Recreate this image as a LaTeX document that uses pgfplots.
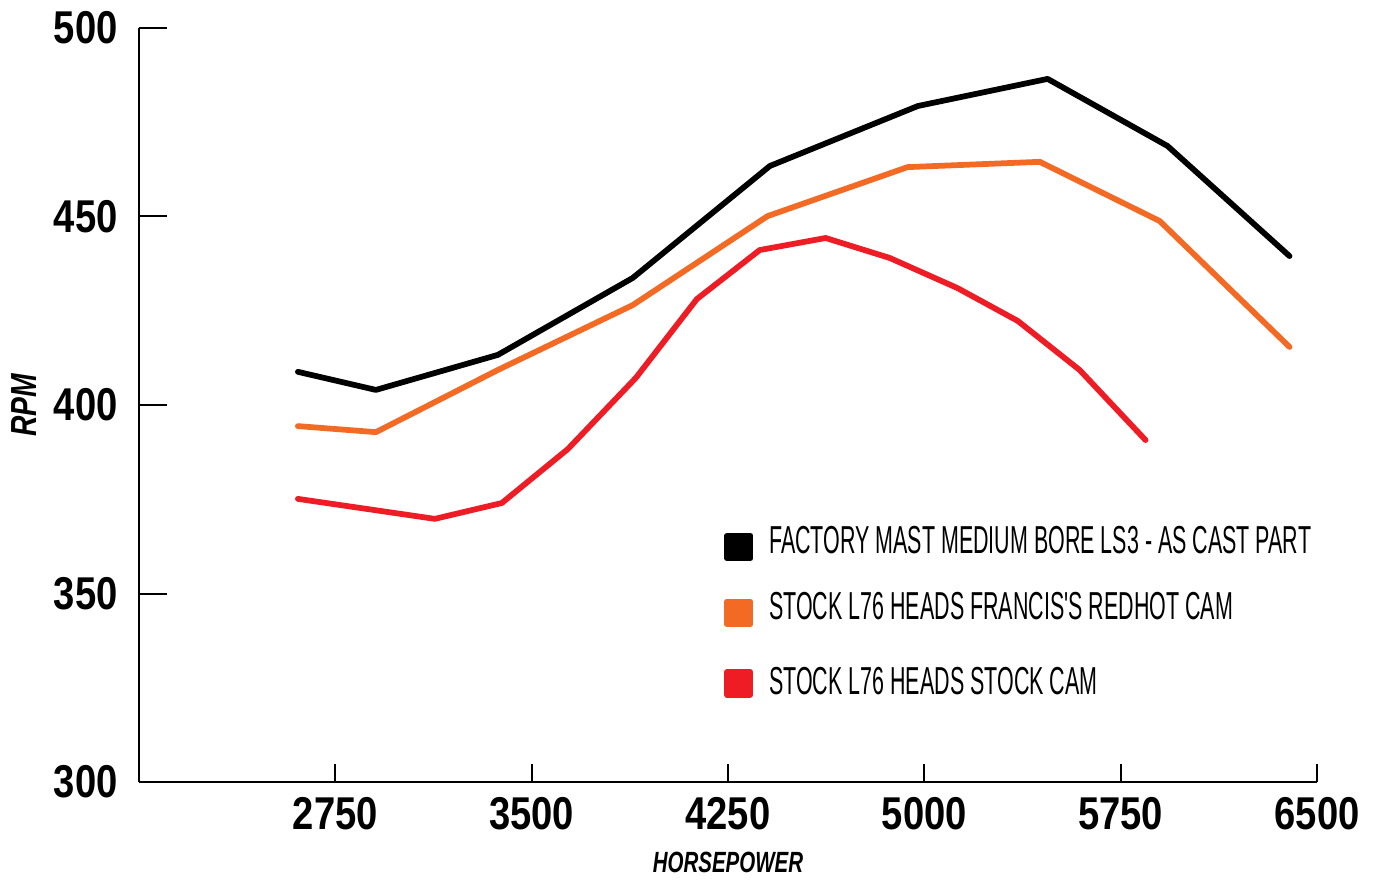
\documentclass[border=0pt]{standalone}
\usepackage{pgfplots}
\pgfplotsset{compat=1.18}
\usepackage{fontspec}
\setmainfont{Liberation Sans}
\newfontfamily\tickfont[FakeStretch=0.83]{Liberation Sans}
\newfontfamily\legfont[FakeStretch=0.55]{Liberation Sans}
\newfontfamily\labfont[FakeStretch=0.70]{Liberation Sans}
\newfontfamily\rpmfont[FakeStretch=0.78]{Liberation Sans}
\definecolor{cblack}{HTML}{000000}
\definecolor{corange}{HTML}{F26A24}
\definecolor{cred}{HTML}{EE1C25}
\begin{document}
\begin{tikzpicture}
\begin{axis}[
  scale only axis,
  width=471.2pt, height=301.6pt,
  xmin=2000, xmax=6500, ymin=300, ymax=500,
  axis lines*=left,
  axis line style={line width=0.8pt},
  xtick={2750,3500,4250,5000,5750,6500},
  ytick={300,350,400,450,500},
  tick align=inside,
  major tick length=11.2pt,
  tick style={line width=0.8pt, black},
  xtick style={draw=none},
  /pgf/number format/assume math mode=true,
  /pgf/number format/set thousands separator={},
  ticklabel style={font=\tickfont\bfseries\fontsize{18.4}{20}\selectfont, inner sep=0pt},
  yticklabel style={anchor=east, xshift=-8.4pt},
  xticklabel style={anchor=north, yshift=-6pt},
  xlabel={HORSEPOWER},
  ylabel={RPM},
  xlabel style={font=\labfont\bfseries\itshape\fontsize{11.7}{12}\selectfont,
    at={(axis description cs:0.5,0)}, anchor=center, yshift=-32pt},
  ylabel style={font=\rpmfont\bfseries\itshape\fontsize{14.5}{15}\selectfont,
    at={(axis description cs:-0.0972,0.5)}, anchor=center},
  clip=false,
  legend cell align=left,
  legend style={draw=none, fill=none, at={(0.4966,0.3395)}, anchor=north west,
    font=\legfont\fontsize{15.6}{17}\selectfont, row sep=12.4pt, inner sep=0pt,
    nodes={inner sep=0pt}, column sep=6.4pt},
  legend image code/.code={\fill (0pt,-6.6pt) rectangle (9.2pt,2.6pt);},
  every axis plot/.append style={line width=2.3pt, line join=round, line cap=round},
]
\addplot[cblack] coordinates {(2607,408.8) (2905,404.0) (3371,413.3) (3886,433.7) (4410,463.4) (4975,479.3) (5471,486.5) (5929,468.7) (6395,439.5)};
\addlegendentry{FACTORY MAST MEDIUM BORE LS3 - AS CAST PART}
\addplot[corange] coordinates {(2607,394.4) (2905,392.8) (3371,409.3) (3886,426.5) (4401,450.1) (4936,463.1) (5441,464.5) (5899,448.8) (6395,415.4)};
\addlegendentry{STOCK L76 HEADS FRANCIS'S REDHOT CAM}
\addplot[cred] coordinates {(2607,375.1) (3130,369.8) (3386,374.0) (3638,388.3) (3898,407.2) (4131,428.1) (4371,441.1) (4623,444.3) (4868,439.0) (5127,431.0) (5357,422.3) (5593,409.3) (5845,390.7)};
\addlegendentry{\rule{0pt}{14.6pt}STOCK L76 HEADS STOCK CAM}
\path[draw=none] (rel axis cs:0,0) ++(-55.6pt,-38.4pt) rectangle ++(550.4pt,351.2pt);
\end{axis}
\begin{axis}[
  scale only axis,
  width=471.2pt, height=301.6pt,
  xmin=2000, xmax=6500, ymin=300, ymax=500,
  axis x line*=bottom, axis y line=none,
  axis line style={line width=0.8pt},
  xtick={2750,3500,4250,5000,5750,6500},
  xticklabels={},
  tick align=inside,
  major tick length=7.2pt,
  tick style={line width=0.8pt, black},
]
\end{axis}
\end{tikzpicture}
\end{document}
